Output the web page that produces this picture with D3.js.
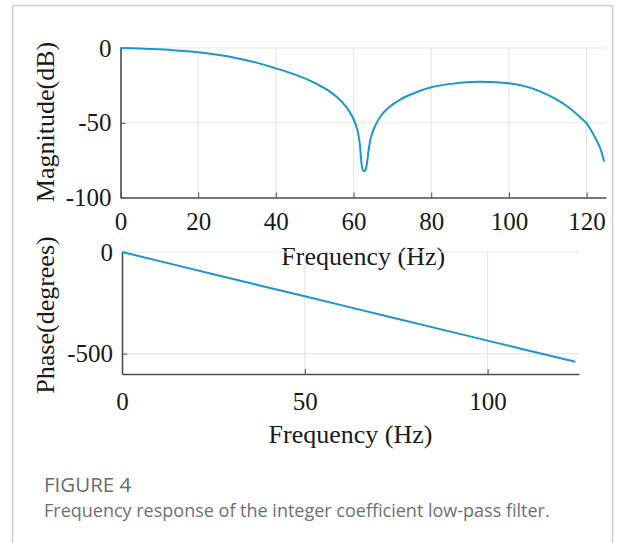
<!DOCTYPE html>
<html>
<head>
<meta charset="utf-8">
<script src="https://cdn.jsdelivr.net/npm/d3@7"></script>
<style>
  body { margin: 0; background: #fff; }
</style>
</head>
<body>
<div id="my_dataviz"></div>
<script>
// data
var magFreq = [0, 5, 10, 15, 20, 25, 30, 35, 40, 45, 50, 52, 54, 56, 58, 59, 60, 61, 61.6, 62.1, 62.5, 63.0, 63.4, 63.9, 64.5, 65.5, 67, 69, 72, 76, 80, 85, 90, 95, 100, 104, 108, 112, 115, 118, 120, 122, 123.5, 124.5];
var magDb   = [0, -0.3, -0.9, -1.8, -2.9, -4.5, -6.8, -9.8, -13.6, -17.8, -23.3, -26.2, -29.3, -33.4, -39, -42.8, -47.5, -55, -64, -78, -82, -82, -78, -68, -59.5, -52.5, -45.5, -40, -34.5, -29.8, -26.3, -24, -22.8, -22.7, -23.6, -25.5, -29, -34, -39, -45.5, -50.5, -59, -67, -76];
var phaseFreq = [0, 25, 50, 75, 100, 124];
var phaseDeg  = [0, -109, -218, -327, -436, -540];
var magXTicks = [0, 20, 40, 60, 80, 100, 120];
var magYTicks = [0, -50, -100];
var phaseXTicks = [0, 50, 100];
var phaseYTicks = [0, -500];

var W = 625, H = 543;
var lineColor = "#1b95d2";
var axisColor = "#4d4d4d";
var gridColor = "#e6e6e6";
var serif = "'Liberation Serif', 'Times New Roman', serif";

var svg = d3.select("#my_dataviz")
  .append("svg")
    .attr("width", W)
    .attr("height", H);

// outer frame of the figure panel
svg.append("rect")
  .attr("x", 12.5).attr("y", 5.5)
  .attr("width", 600).attr("height", 580)
  .attr("fill", "none")
  .attr("stroke", "#cfcfcf")
  .attr("stroke-width", 1.5);

// draws one MATLAB-like panel
function panel(opts) {
  var x = d3.scaleLinear().domain([0, 125]).range([opts.left, opts.right]);
  var y = d3.scaleLinear().domain(opts.yDomain).range([opts.bottom, opts.top]);
  var g = svg.append("g");
  var fmt = function(d) { return String(d); }; // plain hyphen minus like the figure

  // grid
  g.selectAll("line.vgrid").data(opts.xTicks.filter(function(d) { return d > 0; }))
    .enter().append("line")
    .attr("x1", function(d) { return x(d); }).attr("x2", function(d) { return x(d); })
    .attr("y1", opts.top).attr("y2", opts.bottom)
    .attr("stroke", gridColor).attr("stroke-width", 1.2);
  g.selectAll("line.hgrid").data(opts.yTicks.filter(function(d) { return d != opts.yDomain[0]; }))
    .enter().append("line")
    .attr("x1", opts.left).attr("x2", opts.right)
    .attr("y1", function(d) { return y(d); }).attr("y2", function(d) { return y(d); })
    .attr("stroke", gridColor).attr("stroke-width", 1.2);

  // axes (ticks point inward)
  var xAxis = g.append("g")
    .attr("transform", "translate(0," + opts.bottom + ")")
    .call(d3.axisBottom(x).tickValues(opts.xTicks).tickFormat(fmt).tickSizeInner(-5).tickSizeOuter(0).tickPadding(opts.xPad));
  var yAxis = g.append("g")
    .attr("transform", "translate(" + opts.left + ",0)")
    .call(d3.axisLeft(y).tickValues(opts.yTicks).tickFormat(fmt).tickSizeInner(-5).tickSizeOuter(0).tickPadding(9));
  [xAxis, yAxis].forEach(function(a) {
    a.select(".domain").attr("stroke", axisColor).attr("stroke-width", 1.6);
    a.selectAll(".tick line").attr("stroke", axisColor);
    a.selectAll("text")
      .style("font-family", serif)
      .style("font-size", "25px")
      .attr("fill", "#1a1a1a");
  });

  // curve
  var pts = opts.xs.map(function(d, i) { return [d, opts.ys[i]]; });
  g.append("path")
    .datum(pts)
    .attr("fill", "none")
    .attr("stroke", lineColor)
    .attr("stroke-width", 2)
    .attr("d", d3.line()
      .curve(d3.curveCatmullRom.alpha(0.5))
      .x(function(d) { return x(d[0]); })
      .y(function(d) { return y(d[1]); }));

  // axis titles
  g.append("text")
    .attr("x", (opts.left + opts.right) / 2)
    .attr("y", opts.xLabelY)
    .attr("text-anchor", "middle")
    .style("font-family", serif)
    .style("font-size", "26px")
    .attr("fill", "#1a1a1a")
    .text("Frequency (Hz)");
  g.append("text")
    .attr("transform", "translate(54," + opts.yLabelY + ") rotate(-90)")
    .attr("text-anchor", "middle")
    .style("font-family", serif)
    .style("font-size", "26px")
    .attr("fill", "#1a1a1a")
    .text(opts.yLabel);
}

panel({
  left: 120.5, right: 606, top: 48, bottom: 197.5,
  yDomain: [-100, 0], xTicks: magXTicks, yTicks: magYTicks,
  xs: magFreq, ys: magDb, xPad: 15, xLabelY: 265,
  yLabel: "Magnitude(dB)", yLabelY: 122
});

panel({
  left: 122, right: 579, top: 252, bottom: 374,
  yDomain: [-600, 0], xTicks: phaseXTicks, yTicks: phaseYTicks,
  xs: phaseFreq, ys: phaseDeg, xPad: 18, xLabelY: 443,
  yLabel: "Phase(degrees)", yLabelY: 315
});

// caption
svg.append("text")
  .attr("x", 44).attr("y", 492)
  .style("font-family", "'Open Sans', sans-serif")
  .style("font-size", "20.5px")
  .attr("fill", "#6b6b6b")
  .text("FIGURE 4");
svg.append("text")
  .attr("x", 44).attr("y", 517)
  .style("font-family", "'Open Sans', sans-serif")
  .style("font-size", "18px")
  .attr("fill", "#707070")
  .text("Frequency response of the integer coefficient low-pass filter.");
</script>
</body>
</html>
